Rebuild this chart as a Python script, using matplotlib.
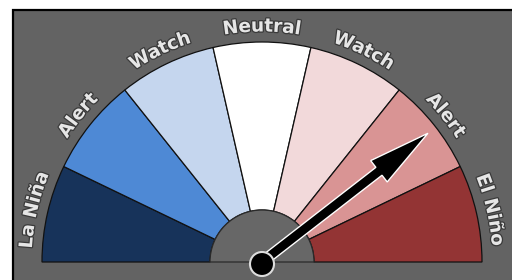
import numpy as np
import matplotlib
matplotlib.use('Agg')
import matplotlib.pyplot as plt
from matplotlib import patches
from matplotlib import patheffects
from matplotlib.font_manager import FontProperties
from matplotlib.textpath import text_to_path

# gauge categories, left to right
labels = ['La Niña', 'Alert', 'Watch', 'Neutral', 'Watch', 'Alert', 'El Niño']
sector_colors = ['#17335a', '#4e89d5', '#c5d6ee', '#ffffff',
                 '#f2d9da', '#d99494', '#933434']
# needle position on the 0..7 category scale
needle_value = 5.53

W, H = 512, 280
fig = plt.figure(figsize=(W / 100, H / 100), dpi=100)
ax = fig.add_axes([0, 0, 1, 1])
ax.set_xlim(0, W)
ax.set_ylim(0, H)
ax.axis('off')

# panel
bg = '#636363'
ax.add_patch(patches.Rectangle((13, -5), W, H - 10 + 5, fc=bg, ec='black', lw=1.6))

cx, cy = 262, 18
r_out, r_in = 220, 52
n = len(labels)
step = 180.0 / n

for i, (lab, c) in enumerate(zip(labels, sector_colors)):
    a2 = 180 - i * step
    a1 = a2 - step
    ax.add_patch(patches.Wedge((cx, cy), r_out, a1, a2, width=r_out - r_in,
                               fc=c, ec='#111111', lw=0.9))

# hub
ax.add_patch(patches.Wedge((cx, cy), r_in, 0, 180, fc='#676767', ec='#2a2a2a', lw=0.9))

# curved labels
prop = FontProperties(family='DejaVu Sans', weight='bold', size=13.4)
px = 100 / 72.0
r_lab = 236
effects = [patheffects.withStroke(linewidth=1.8, foreground='#3a3a3a')]

def text_w(s):
    if not s:
        return 0.0
    w, h, d = text_to_path.get_text_width_height_descent(s, prop, ismath=False)
    return w * px

for i, lab in enumerate(labels):
    theta = np.radians(180 - (i + 0.5) * step)
    total = text_w(lab)
    for k, ch in enumerate(lab):
        p = text_w(lab[:k])
        w = text_w(lab[:k + 1]) - p
        s = p + w / 2 - total / 2
        a = theta - s / r_lab
        x = cx + r_lab * np.cos(a)
        y = cy + r_lab * np.sin(a)
        ax.text(x, y, ch, fontproperties=prop, color='#e6e6e6',
                rotation=np.degrees(a) - 90, rotation_mode='anchor',
                ha='center', va='center', path_effects=effects)

# needle
ang = np.radians(180 - needle_value * step)
length = 210
ax.add_patch(patches.FancyArrow(cx, cy, length * np.cos(ang), length * np.sin(ang),
                                width=10, head_width=27, head_length=62,
                                length_includes_head=True, fc='black', ec='white', lw=1.0))
ax.add_patch(patches.Circle((cx, cy - 2), 12, fc='black', ec='#dddddd', lw=1.5))

fig.savefig('out.png', dpi=100, facecolor='white')
